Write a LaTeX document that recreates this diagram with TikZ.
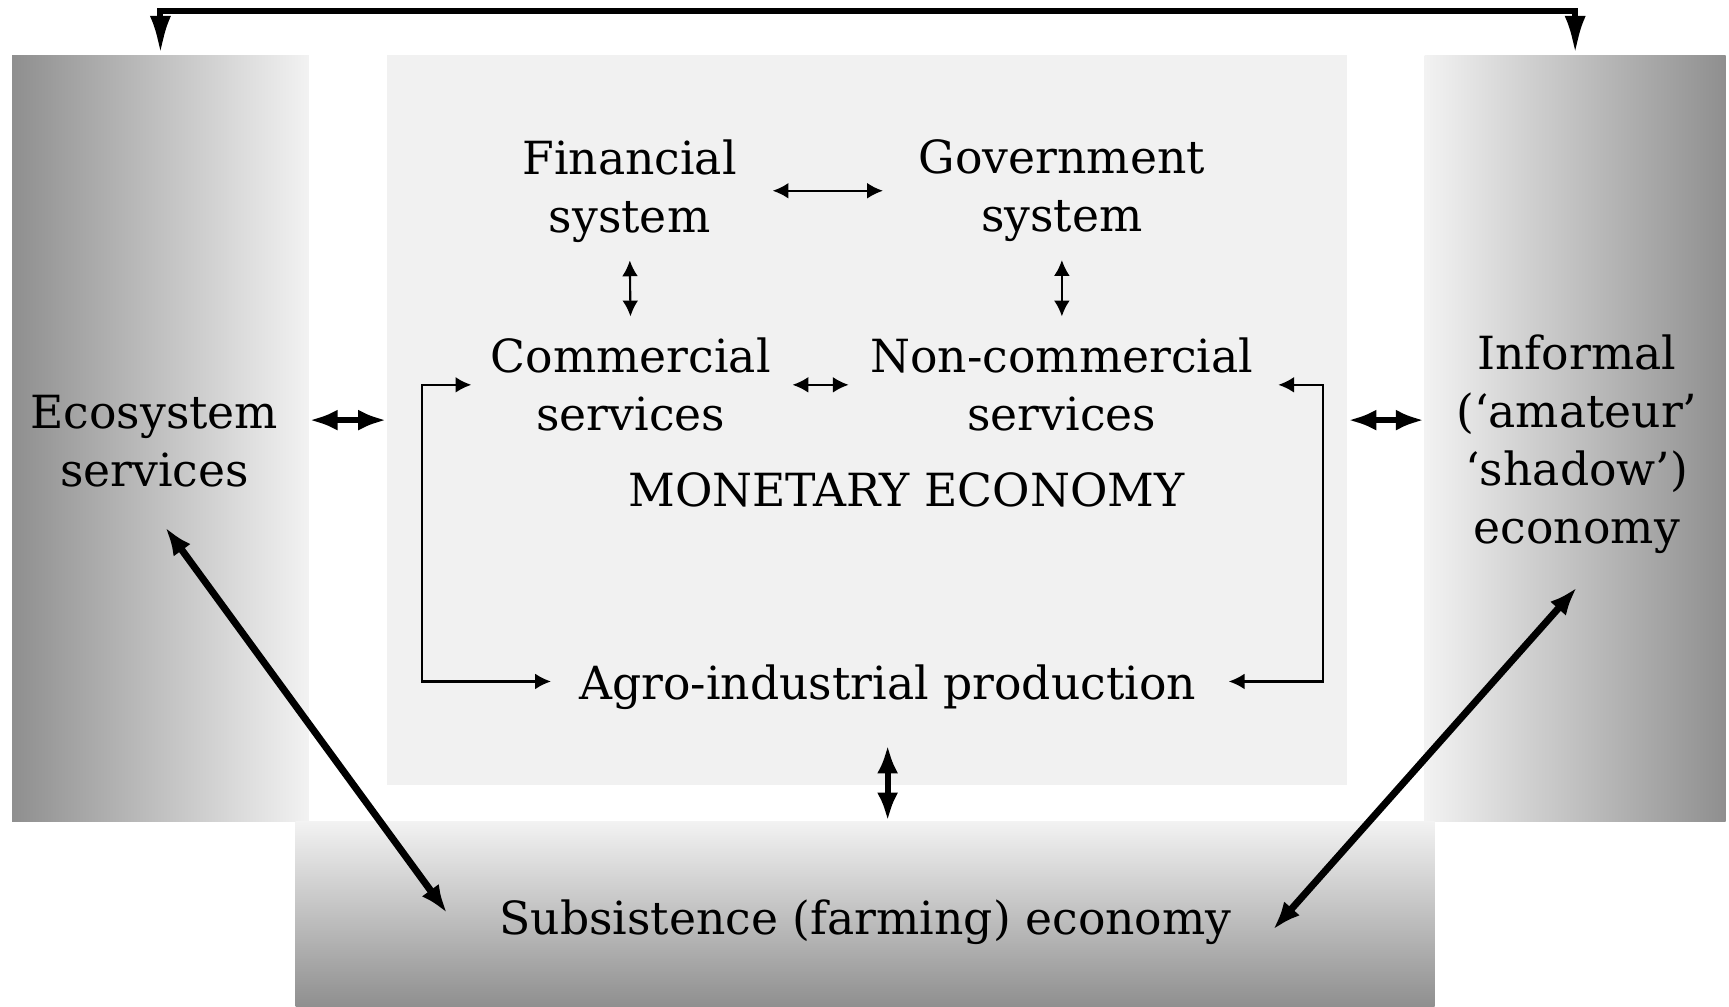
\documentclass[tikz,border=0pt]{standalone}
\usepackage{fontspec}
\setmainfont{DejaVu Serif}
\usepackage{tikz}
\usetikzlibrary{arrows.meta, positioning, fit, calc}

\definecolor{shadedark}{gray}{0.56}
\definecolor{shadelight}{gray}{0.95}
\definecolor{monfill}{gray}{0.945}

\tikzset{
  lbl/.style={align=center, inner sep=0pt, font=\fontsize{13}{16.5}\selectfont},
  zone/.style={inner sep=0pt, draw=none},
  thinarr/.style={{Latex[length=4.5pt,width=4.5pt]}-{Latex[length=4.5pt,width=4.5pt]}, line width=0.6pt},
  thickarr/.style={{Latex[length=8pt,width=6pt]}-{Latex[length=8pt,width=6pt]}, line width=1.7pt}
}

\begin{document}
\begin{tikzpicture}[x=0.011027cm, y=-0.011027cm]
  \useasboundingbox (0,0) rectangle (1568,913);

  % shaded zones
  \node[zone, fit={(11,50) (280,745)}, left color=shadedark, right color=shadelight] (ecobox) {};
  \node[zone, fit={(1292,50) (1565,745)}, left color=shadelight, right color=shadedark] (infbox) {};
  \node[zone, fit={(268,745) (1301,913)}, top color=shadelight, bottom color=shadedark] (subsbox) {};
  \node[zone, fit={(351,50) (1222,712)}, fill=monfill] (monbox) {};

  % labels
  \node[lbl] (fin) at (571,173) {Financial\\system};
  \node[lbl] (gov) at (963,173) {Government\\system};
  \node[lbl] (comm) at (572,349) {Commercial\\services};
  \node[lbl] (noncomm) at (963,349) {Non-commercial\\services};
  \node[lbl] (mon) at (822,444) {MONETARY ECONOMY};
  \node[lbl] (agro) at (805,623) {Agro-industrial production};
  \node[lbl] (eco) at (140,400) {Ecosystem\\services};
  \node[lbl] (inf) at (1430,403) {Informal\\(‘amateur’\\‘shadow’)\\economy};
  \node[lbl] (subs) at (785,836) {Subsistence (farming) economy};

  \coordinate (topline) at (0,10);
  \coordinate (lx) at (383,0);
  \coordinate (rx) at (1200,0);

  % thin links inside the monetary economy
  \draw[thinarr, shorten <=10pt, shorten >=10pt] (fin.east) -- (gov.west);
  \draw[thinarr, shorten <=5pt, shorten >=6pt] (fin.south) -- (comm.north);
  \draw[thinarr, shorten <=5pt, shorten >=6pt] (gov.south) -- (noncomm.north);
  \draw[thinarr, shorten <=6pt, shorten >=6pt] (comm.east) -- (noncomm.west);
  \draw[thinarr] ($(comm.west)+(-17,0)$) -- ($(comm.west -| lx)$) |- ($(agro.west)+(-25,-5)$);
  \draw[thinarr] ($(noncomm.east)+(22,0)$) -- ($(noncomm.east -| rx)$) |- ($(agro.east)+(29,-5)$);

  % thick links between the zones
  \draw[{Latex[length=11pt,width=6pt]}-{Latex[length=11pt,width=6pt]}, line width=1.7pt]
    (ecobox.north) -- (ecobox.north |- topline) -- (infbox.north |- topline) -- (infbox.north);
  \draw[thickarr] (ecobox.east |- monbox.west) -- (monbox.west);
  \draw[thickarr] (monbox.east) -- (infbox.west |- monbox.east);
  \draw[thickarr, shorten <=10pt] (agro.south) -- (agro.south |- subsbox.north);
  \draw[thickarr, line width=2pt] ($(eco.south)+(10,36)$) -- ($(subs.west)+(-47,-8)$);
  \draw[thickarr, line width=2pt] ($(inf.south)+(0,30)$) -- ($(subs.east)+(37,7)$);
\end{tikzpicture}
\end{document}
